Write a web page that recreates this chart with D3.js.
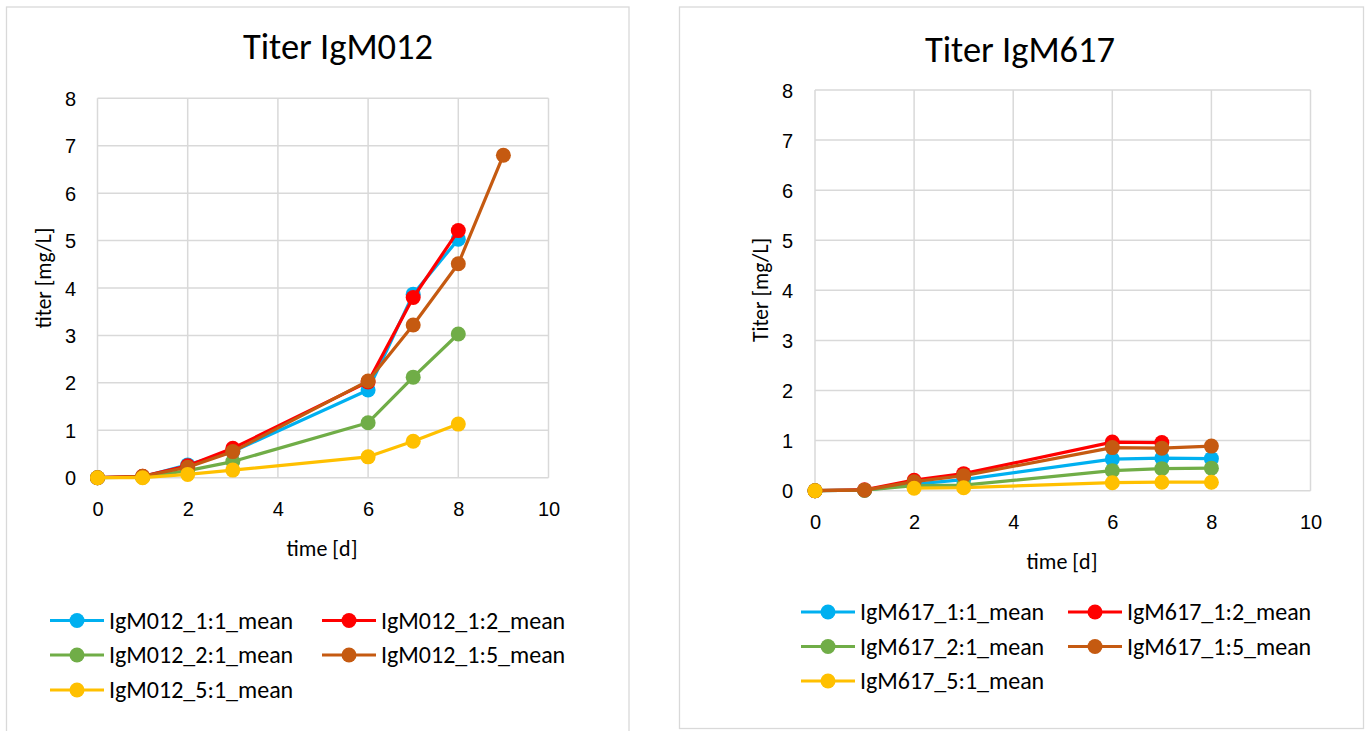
<!DOCTYPE html>
<html>
<head>
<meta charset="utf-8">
<script src="https://cdn.jsdelivr.net/npm/d3@7"></script>
<style>
  html, body { margin: 0; padding: 0; background: #fff; }
  svg { display: block; font-family: Carlito, Lato, "Noto Sans", sans-serif; }
</style>
</head>
<body>
<svg id="chart" width="1370" height="731"></svg>
<script>
// ---------- data ----------
const days012 = [0, 1, 2, 3, 6, 7, 8, 9];
const IgM012_1_1 = [0, 0.02, 0.27, 0.55, 1.85, 3.87, 5.03, null];
const IgM012_1_2 = [0, 0.03, 0.25, 0.62, 2.02, 3.80, 5.21, null];
const IgM012_2_1 = [0, 0.01, 0.15, 0.34, 1.16, 2.12, 3.03, null];
const IgM012_1_5 = [0, 0.03, 0.22, 0.55, 2.04, 3.22, 4.51, 6.80];
const IgM012_5_1 = [0, 0.00, 0.07, 0.16, 0.44, 0.77, 1.13, null];

const days617 = [0, 1, 2, 3, 6, 7, 8];
const IgM617_1_1 = [0, 0.01, 0.13, 0.22, 0.63, 0.65, 0.64];
const IgM617_1_2 = [0, 0.02, 0.21, 0.34, 0.97, 0.96, null];
const IgM617_2_1 = [0, 0.01, 0.10, 0.11, 0.40, 0.44, 0.45];
const IgM617_1_5 = [0, 0.01, 0.18, 0.30, 0.86, 0.85, 0.89];
const IgM617_5_1 = [0, null, 0.05, 0.06, 0.16, 0.17, 0.17];

const names012 = ["IgM012_1:1_mean", "IgM012_1:2_mean", "IgM012_2:1_mean", "IgM012_1:5_mean", "IgM012_5:1_mean"];
const names617 = ["IgM617_1:1_mean", "IgM617_1:2_mean", "IgM617_2:1_mean", "IgM617_1:5_mean", "IgM617_5:1_mean"];
const seriesColors = ["#00b0f0", "#ff0000", "#70ad47", "#c55a11", "#ffc000"];
const xTicks = [0, 2, 4, 6, 8, 10];
const yTicks = [0, 1, 2, 3, 4, 5, 6, 7, 8];

// ---------- layout ----------
const svg = d3.select("#chart");

const charts = [
  {
    title: "Titer IgM012", yTitle: "titer [mg/L]", xTitle: "time [d]",
    days: days012, values: [IgM012_1_1, IgM012_1_2, IgM012_2_1, IgM012_1_5, IgM012_5_1], names: names012,
    frame: { x: 6.5, y: 7, w: 622.5, h: 760 },
    plot: { l: 97.5, r: 548.5, t: 98.3, b: 477.7 },
    titleX: 338, titleY: 59,
    yTitleX: 43, yTitleY: 278,
    xTitleX: 322, xTitleY: 556,
    xTickY: 516, yTickX: 76,
    legend: { col1: 50, col2: 322, rows: [620.5, 655, 690] }
  },
  {
    title: "Titer IgM617", yTitle: "Titer [mg/L]", xTitle: "time [d]",
    days: days617, values: [IgM617_1_1, IgM617_1_2, IgM617_2_1, IgM617_1_5, IgM617_5_1], names: names617,
    frame: { x: 679.5, y: 7, w: 684, h: 721.5 },
    plot: { l: 815, r: 1310.5, t: 90, b: 490.7 },
    titleX: 1020, titleY: 62,
    yTitleX: 760, yTitleY: 290,
    xTitleX: 1062, xTitleY: 569,
    xTickY: 529, yTickX: 793,
    legend: { col1: 801, col2: 1068, rows: [612, 646.5, 681] }
  }
];

charts.forEach(c => {
  const g = svg.append("g");
  g.append("rect")
    .attr("x", c.frame.x).attr("y", c.frame.y)
    .attr("width", c.frame.w).attr("height", c.frame.h)
    .attr("fill", "#fff").attr("stroke", "#d9d9d9").attr("stroke-width", 1.3);

  const x = d3.scaleLinear().domain([0, 10]).range([c.plot.l, c.plot.r]);
  const y = d3.scaleLinear().domain([0, 8]).range([c.plot.b, c.plot.t]);

  // gridlines
  g.append("g").selectAll("line.h").data(yTicks).join("line")
    .attr("x1", c.plot.l).attr("x2", c.plot.r)
    .attr("y1", d => y(d)).attr("y2", d => y(d))
    .attr("stroke", "#d9d9d9").attr("stroke-width", 1.5);
  g.append("g").selectAll("line.v").data(xTicks).join("line")
    .attr("y1", c.plot.t).attr("y2", c.plot.b)
    .attr("x1", d => x(d)).attr("x2", d => x(d))
    .attr("stroke", "#d9d9d9").attr("stroke-width", 1.5);

  // axes (labels only)
  const yAxis = d3.axisLeft(y).tickValues(yTicks).tickSize(0).tickPadding(0).tickFormat(d3.format("d"));
  const ya = g.append("g").attr("transform", `translate(${c.yTickX},0)`).call(yAxis);
  ya.select(".domain").remove();
  ya.selectAll("text").attr("font-size", 20).attr("fill", "#000").attr("font-family", null).attr("dy", "0.35em");

  const xAxis = d3.axisBottom(x).tickValues(xTicks).tickSize(0).tickPadding(0).tickFormat(d3.format("d"));
  const xa = g.append("g").attr("transform", `translate(0,${c.xTickY})`).call(xAxis);
  xa.select(".domain").remove();
  xa.selectAll("text").attr("font-size", 20).attr("fill", "#000").attr("font-family", null).attr("dy", 0);

  // titles
  g.append("text").attr("x", c.titleX).attr("y", c.titleY).attr("text-anchor", "middle")
    .attr("font-size", 36.5).attr("fill", "#000").text(c.title);
  g.append("text").attr("transform", `translate(${c.yTitleX},${c.yTitleY}) rotate(-90)`)
    .attr("text-anchor", "middle").attr("dy", "0.35em")
    .attr("font-size", 21.5).attr("fill", "#000").text(c.yTitle);
  g.append("text").attr("x", c.xTitleX).attr("y", c.xTitleY).attr("text-anchor", "middle")
    .attr("font-size", 22).attr("fill", "#000").text(c.xTitle);

  // series
  const line = d3.line()
    .defined(d => d.v !== null)
    .x(d => x(d.t)).y(d => y(d.v));
  c.values.forEach((vals, i) => {
    const pts = c.days.map((t, k) => ({ t, v: vals[k] }));
    const sg = g.append("g");
    sg.append("path").datum(pts).attr("d", line)
      .attr("fill", "none").attr("stroke", seriesColors[i])
      .attr("stroke-width", 3.2).attr("stroke-linejoin", "round").attr("stroke-linecap", "round");
    sg.selectAll("circle").data(pts.filter(d => d.v !== null)).join("circle")
      .attr("cx", d => x(d.t)).attr("cy", d => y(d.v)).attr("r", 7.5)
      .attr("fill", seriesColors[i]);
  });

  // legend
  c.names.forEach((n, i) => {
    const col = i % 2 === 0 ? c.legend.col1 : c.legend.col2;
    const ry = c.legend.rows[Math.floor(i / 2)];
    const lg = g.append("g").attr("transform", `translate(${col},${ry})`);
    lg.append("line").attr("x1", 0).attr("x2", 54).attr("y1", 0).attr("y2", 0)
      .attr("stroke", seriesColors[i]).attr("stroke-width", 3.2);
    lg.append("circle").attr("cx", 27).attr("cy", 0).attr("r", 7.5).attr("fill", seriesColors[i]);
    lg.append("text").attr("x", 59).attr("y", 0).attr("dy", "0.35em")
      .attr("font-size", 24).attr("fill", "#000").text(n);
  });
});
</script>
</body>
</html>
